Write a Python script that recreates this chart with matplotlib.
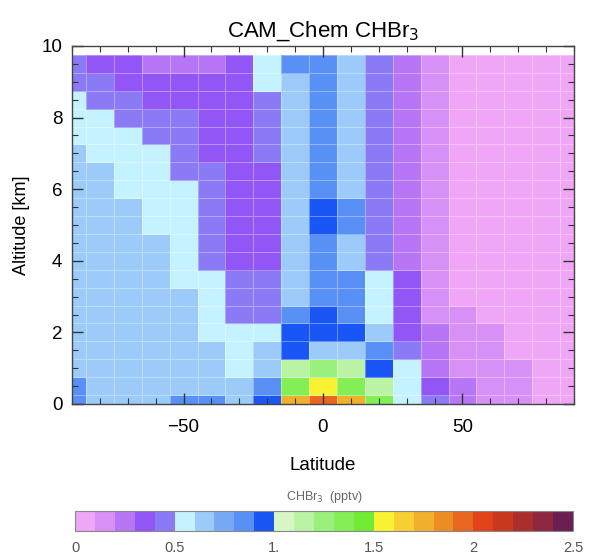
import numpy as np
import matplotlib
matplotlib.use("Agg")
import matplotlib.pyplot as plt
from matplotlib.colors import ListedColormap, BoundaryNorm
from matplotlib.ticker import MultipleLocator

plt.rcParams['font.family'] = ['Liberation Sans', 'DejaVu Sans']

# ---- data ----
latitudes = np.arange(-90, 91, 10)          # cell centres
altitudes = np.arange(0, 10, 0.5)           # cell centres (km)

# CHBr3 (pptv), rows from top (9.5 km) down to 0 km, columns -90 ... 90
r9_5 = [0.45, 0.35, 0.35, 0.25, 0.25, 0.25, 0.35, 0.55, 0.85, 0.85, 0.65, 0.45, 0.25, 0.15, 0.05, 0.05, 0.05, 0.05, 0.05]
r9_0 = [0.45, 0.45, 0.35, 0.35, 0.35, 0.35, 0.35, 0.55, 0.65, 0.85, 0.65, 0.45, 0.25, 0.15, 0.05, 0.05, 0.05, 0.05, 0.05]
r8_5 = [0.55, 0.45, 0.45, 0.35, 0.35, 0.35, 0.35, 0.45, 0.65, 0.85, 0.65, 0.45, 0.25, 0.15, 0.05, 0.05, 0.05, 0.05, 0.05]
r8_0 = [0.55, 0.55, 0.45, 0.45, 0.45, 0.35, 0.35, 0.45, 0.65, 0.85, 0.65, 0.45, 0.25, 0.15, 0.05, 0.05, 0.05, 0.05, 0.05]
r7_5 = [0.55, 0.55, 0.55, 0.45, 0.45, 0.35, 0.35, 0.45, 0.65, 0.85, 0.65, 0.45, 0.25, 0.15, 0.05, 0.05, 0.05, 0.05, 0.05]
r7_0 = [0.65, 0.55, 0.55, 0.55, 0.45, 0.35, 0.35, 0.45, 0.65, 0.85, 0.65, 0.45, 0.25, 0.15, 0.05, 0.05, 0.05, 0.05, 0.05]
r6_5 = [0.65, 0.65, 0.55, 0.55, 0.45, 0.45, 0.35, 0.35, 0.65, 0.85, 0.65, 0.45, 0.25, 0.15, 0.05, 0.05, 0.05, 0.05, 0.05]
r6_0 = [0.65, 0.65, 0.55, 0.55, 0.55, 0.45, 0.35, 0.35, 0.65, 0.85, 0.65, 0.45, 0.25, 0.15, 0.05, 0.05, 0.05, 0.05, 0.05]
r5_5 = [0.65, 0.65, 0.65, 0.55, 0.55, 0.45, 0.35, 0.35, 0.65, 0.95, 0.85, 0.45, 0.25, 0.15, 0.05, 0.05, 0.05, 0.05, 0.05]
r5_0 = [0.65, 0.65, 0.65, 0.55, 0.55, 0.45, 0.35, 0.35, 0.65, 0.95, 0.85, 0.45, 0.25, 0.15, 0.05, 0.05, 0.05, 0.05, 0.05]
r4_5 = [0.65, 0.65, 0.65, 0.65, 0.55, 0.45, 0.35, 0.35, 0.65, 0.85, 0.65, 0.45, 0.25, 0.15, 0.05, 0.05, 0.05, 0.05, 0.05]
r4_0 = [0.65, 0.65, 0.65, 0.65, 0.55, 0.45, 0.35, 0.35, 0.65, 0.85, 0.65, 0.45, 0.25, 0.15, 0.05, 0.05, 0.05, 0.05, 0.05]
r3_5 = [0.65, 0.65, 0.65, 0.65, 0.55, 0.55, 0.45, 0.45, 0.65, 0.85, 0.85, 0.55, 0.35, 0.15, 0.05, 0.05, 0.05, 0.05, 0.05]
r3_0 = [0.65, 0.65, 0.65, 0.65, 0.65, 0.55, 0.45, 0.45, 0.65, 0.85, 0.85, 0.55, 0.35, 0.15, 0.05, 0.05, 0.05, 0.05, 0.05]
r2_5 = [0.65, 0.65, 0.65, 0.65, 0.65, 0.55, 0.45, 0.45, 0.85, 0.95, 0.85, 0.55, 0.35, 0.15, 0.15, 0.05, 0.05, 0.05, 0.05]
r2_0 = [0.65, 0.65, 0.65, 0.65, 0.65, 0.55, 0.55, 0.55, 0.95, 0.95, 0.95, 0.65, 0.35, 0.25, 0.15, 0.15, 0.05, 0.05, 0.05]
r1_5 = [0.65, 0.65, 0.65, 0.65, 0.65, 0.65, 0.55, 0.65, 0.95, 0.65, 0.65, 0.85, 0.45, 0.25, 0.15, 0.15, 0.05, 0.05, 0.05]
r1_0 = [0.65, 0.65, 0.65, 0.65, 0.65, 0.65, 0.55, 0.65, 1.15, 1.25, 1.15, 0.95, 0.55, 0.25, 0.15, 0.15, 0.15, 0.05, 0.05]
r0_5 = [0.85, 0.65, 0.65, 0.65, 0.65, 0.65, 0.65, 0.85, 1.35, 1.55, 1.35, 1.15, 0.55, 0.35, 0.25, 0.15, 0.15, 0.05, 0.05]
r0_0 = [0.85, 0.65, 0.65, 0.65, 0.85, 0.85, 0.65, 0.95, 1.75, 1.95, 1.75, 1.35, 0.55, 0.45, 0.25, 0.15, 0.15, 0.05, 0.05]

rows_top_down = [r9_5, r9_0, r8_5, r8_0, r7_5, r7_0, r6_5, r6_0, r5_5, r5_0,
                 r4_5, r4_0, r3_5, r3_0, r2_5, r2_0, r1_5, r1_0, r0_5, r0_0]
chbr3 = np.array(rows_top_down[::-1])   # shape (20, 19), row 0 = 0 km

level_bounds = np.round(np.arange(0, 2.51, 0.1), 2)
cbar_ticks = [0, 0.5, 1.0, 1.5, 2.0, 2.5]
cbar_ticklabels = ['0', '0.5', '1.', '1.5', '2', '2.5']

colors = ['#F0A6F6', '#D690F6', '#B676F5', '#9256F6', '#8A7AF6',
          '#C4F3FF', '#9CCBFA', '#78A8F6', '#5890F5', '#1A56F5',
          '#D6F6C6', '#BAF3A4', '#9AF07C', '#84EE55', '#70EA34',
          '#F8F232', '#F7CF32', '#F1B02C', '#EE8C24', '#E8661F',
          '#E2431A', '#CA3820', '#AA2F2C', '#8E2840', '#6C1E50']
cmap = ListedColormap(colors)
norm = BoundaryNorm(level_bounds, cmap.N)

# ---- figure ----
fig = plt.figure(figsize=(6.04, 5.58), dpi=100)
ax = fig.add_axes([72/604, 1-404/558, 502/604, 358/558])

dlat = 10
dalt = 0.5
lat_edges = np.append(latitudes - dlat/2, latitudes[-1] + dlat/2)
alt_edges = np.append(altitudes - dalt/2, altitudes[-1] + dalt/2)
ax.pcolormesh(lat_edges, alt_edges, chbr3, cmap=cmap, norm=norm,
              edgecolors=(1, 1, 1, 0.35), linewidth=0.7)

ax.set_xlim(-90, 90)
ax.set_ylim(0, 10)
ax.xaxis.set_major_locator(MultipleLocator(50))
ax.xaxis.set_minor_locator(MultipleLocator(10))
ax.yaxis.set_major_locator(MultipleLocator(2))
ax.yaxis.set_minor_locator(MultipleLocator(0.5))
ax.tick_params(which='both', direction='in', top=True, right=True,
               color='#333333', labelsize=13.5)
ax.tick_params(axis='x', which='both', pad=11)
ax.tick_params(axis='y', which='both', pad=7)
ax.tick_params(which='major', length=8, width=1)
ax.tick_params(which='minor', length=4, width=0.8)
for s in ax.spines.values():
    s.set_color('#444444')
    s.set_linewidth(1.0)

ax.set_xlabel('Latitude', fontsize=13.5, labelpad=15)
ax.set_ylabel('Altitude [km]', fontsize=13, labelpad=8)
ax.set_title('CAM_Chem CHBr$_3$', fontsize=16, pad=7)

# ---- colorbar ----
cax = fig.add_axes([75/604, 1-531/558, 498/604, 20/558])
sm = matplotlib.cm.ScalarMappable(norm=norm, cmap=cmap)
cb = fig.colorbar(sm, cax=cax, orientation='horizontal', ticks=cbar_ticks)
cb.set_ticklabels(cbar_ticklabels)
cb.ax.minorticks_off()
cb.ax.tick_params(length=0, labelsize=10.5, labelcolor='#555555', pad=7)
cb.outline.set_edgecolor('#888888')
cb.outline.set_linewidth(0.8)
cb.ax.xaxis.set_label_position('top')
cb.set_label('CHBr$_3$  (pptv)', fontsize=9, color='#666666', labelpad=8)

fig.savefig('out.png', dpi=100)
